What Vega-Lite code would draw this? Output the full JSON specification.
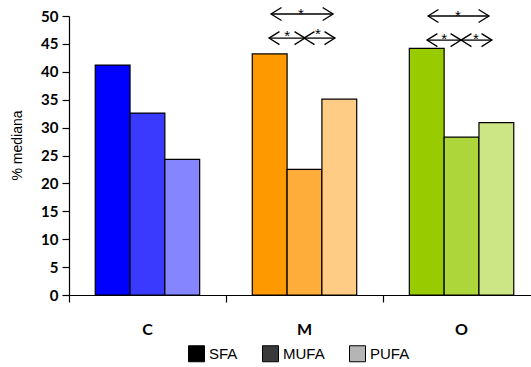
{
  "$schema": "https://vega.github.io/schema/vega-lite/v6.json",
  "width": 462,
  "height": 279,
  "autosize": {"type": "none"},
  "padding": {"left": 69, "top": 16, "right": 0, "bottom": 72},
  "background": "white",
  "config": {"view": {"stroke": null}},
  "datasets": {
    "bars": [
      {"group": "C", "acid": "SFA", "key": "C-SFA", "value": 41.2},
      {"group": "C", "acid": "MUFA", "key": "C-MUFA", "value": 32.6},
      {"group": "C", "acid": "PUFA", "key": "C-PUFA", "value": 24.3},
      {"group": "M", "acid": "SFA", "key": "M-SFA", "value": 43.2},
      {"group": "M", "acid": "MUFA", "key": "M-MUFA", "value": 22.5},
      {"group": "M", "acid": "PUFA", "key": "M-PUFA", "value": 35.1},
      {"group": "O", "acid": "SFA", "key": "O-SFA", "value": 44.2},
      {"group": "O", "acid": "MUFA", "key": "O-MUFA", "value": 28.3},
      {"group": "O", "acid": "PUFA", "key": "O-PUFA", "value": 30.9}
    ],
    "legendrows": [
      {"acid": "SFA", "value": 0},
      {"acid": "MUFA", "value": 0},
      {"acid": "PUFA", "value": 0}
    ],
    "shafts": [
      {"x1": 1.287, "x2": 1.682, "value": 50.36},
      {"x1": 1.274, "x2": 1.503, "value": 46.04},
      {"x1": 1.497, "x2": 1.694, "value": 46.04},
      {"x1": 2.287, "x2": 2.675, "value": 50.0},
      {"x1": 2.28, "x2": 2.497, "value": 45.68},
      {"x1": 2.497, "x2": 2.694, "value": 45.68}
    ],
    "heads": [
      {"x": 1.287, "value": 50.36, "dir": "L"},
      {"x": 1.682, "value": 50.36, "dir": "R"},
      {"x": 1.274, "value": 46.04, "dir": "L"},
      {"x": 1.503, "value": 46.04, "dir": "R"},
      {"x": 1.497, "value": 46.04, "dir": "L"},
      {"x": 1.694, "value": 46.04, "dir": "R"},
      {"x": 2.287, "value": 50.0, "dir": "L"},
      {"x": 2.675, "value": 50.0, "dir": "R"},
      {"x": 2.28, "value": 45.68, "dir": "L"},
      {"x": 2.497, "value": 45.68, "dir": "R"},
      {"x": 2.497, "value": 45.68, "dir": "L"},
      {"x": 2.694, "value": 45.68, "dir": "R"}
    ],
    "stars": [
      {"x": 1.478, "value": 51.08, "t": "*"},
      {"x": 1.389, "value": 47.1, "t": "*"},
      {"x": 1.586, "value": 47.5, "t": "*"},
      {"x": 2.478, "value": 50.7, "t": "*"},
      {"x": 2.389, "value": 46.6, "t": "*"},
      {"x": 2.592, "value": 46.6, "t": "*"}
    ]
  },
  "encoding": {
    "y": {
      "field": "value", "type": "quantitative",
      "scale": {"domain": [0, 50], "nice": false},
      "axis": {
        "values": [0, 5, 10, 15, 20, 25, 30, 35, 40, 45, 50], "grid": false, "labelOverlap": false,
        "title": "% mediana", "titleFont": "Liberation Sans", "titleFontWeight": "normal", "titleFontSize": 14, "titleColor": "black",
        "titleX": -52, "titleY": 129, "titleAngle": -90, "titleBaseline": "middle", "titleAlign": "center",
        "domainColor": "black", "domainWidth": 1.2, "tickColor": "black", "tickWidth": 1.2, "tickSize": 7,
        "labelFont": "Lato", "labelFontWeight": "bold", "labelFontSize": 15, "labelColor": "black", "labelPadding": 4
      }
    }
  },
  "layer": [
    {
      "data": {"name": "bars"},
      "mark": {"type": "bar", "stroke": "black", "strokeWidth": 1.2},
      "encoding": {
        "x": {
          "field": "group", "type": "nominal", "sort": ["C", "M", "O"],
          "scale": {"range": [0, 471], "paddingInner": 0.335, "paddingOuter": 0.167},
          "axis": {
            "orient": "bottom", "title": null, "labelAngle": 0, "ticks": false,
            "domainColor": "black", "domainWidth": 1.2,
            "labelFont": "Lato", "labelFontWeight": "bold", "labelFontSize": 16, "labelColor": "black",
            "labelPadding": 26
          }
        },
        "xOffset": {"field": "acid", "type": "nominal", "sort": ["SFA", "MUFA", "PUFA"], "scale": {"paddingInner": 0, "paddingOuter": 0}},
        "fill": {
          "field": "key", "type": "nominal",
          "scale": {
            "domain": ["C-SFA", "C-MUFA", "C-PUFA", "M-SFA", "M-MUFA", "M-PUFA", "O-SFA", "O-MUFA", "O-PUFA"],
            "range": ["#0000ff", "#3a3aff", "#8585ff", "#ff9900", "#ffad3a", "#ffcc85", "#99cc00", "#add63a", "#cce585"]
          },
          "legend": null
        }
      }
    },
    {
      "data": {"name": "legendrows"},
      "mark": {"type": "square", "size": 0, "filled": true},
      "encoding": {
        "color": {
          "field": "acid", "type": "nominal", "sort": ["SFA", "MUFA", "PUFA"],
          "scale": {"domain": ["SFA", "MUFA", "PUFA"], "range": ["#000000", "#3a3a3a", "#b5b5b5"]},
          "legend": {
            "title": null, "orient": "none", "direction": "horizontal", "legendX": 119, "legendY": 329,
            "padding": 0,
            "symbolType": "square", "symbolSize": 256, "symbolStrokeWidth": 1, "symbolStrokeColor": "black", "symbolOpacity": 1,
            "labelFont": "Liberation Sans", "labelFontSize": 15, "labelColor": "black", "labelOffset": 4,
            "columnPadding": 22
          }
        }
      }
    },
    {
      "data": {"name": "shafts"},
      "mark": {"type": "rule", "color": "black", "strokeWidth": 1.3},
      "encoding": {
        "x": {
          "field": "x1", "type": "quantitative",
          "scale": {"domain": [0, 3], "range": [0, 471], "nice": false, "zero": false},
          "axis": {
            "orient": "bottom", "values": [0, 1, 2], "labels": false, "domain": false, "grid": false, "title": null,
            "ticks": true, "tickColor": "black", "tickWidth": 1.2, "tickSize": 7, "offset": 0
          }
        },
        "x2": {"field": "x2"}
      }
    },
    {
      "data": {"name": "heads"},
      "mark": {"type": "point", "filled": false, "stroke": "black", "strokeWidth": 1.3, "size": 170, "opacity": 1},
      "encoding": {
        "x": {"field": "x", "type": "quantitative", "scale": {"domain": [0, 3], "range": [0, 471], "nice": false, "zero": false}, "axis": null},
        "shape": {
          "field": "dir", "type": "nominal",
          "scale": {"domain": ["L", "R"], "range": ["M1.6,-1L0,0L1.6,1", "M-1.6,-1L0,0L-1.6,1"]},
          "legend": null
        }
      }
    },
    {
      "data": {"name": "stars"},
      "mark": {"type": "text", "font": "Liberation Sans", "fontSize": 15, "color": "black", "baseline": "middle", "dy": 4},
      "encoding": {
        "x": {"field": "x", "type": "quantitative", "scale": {"domain": [0, 3], "range": [0, 471], "nice": false, "zero": false}, "axis": null},
        "text": {"field": "t"}
      }
    }
  ],
  "resolve": {"scale": {"x": "independent"}}
}
